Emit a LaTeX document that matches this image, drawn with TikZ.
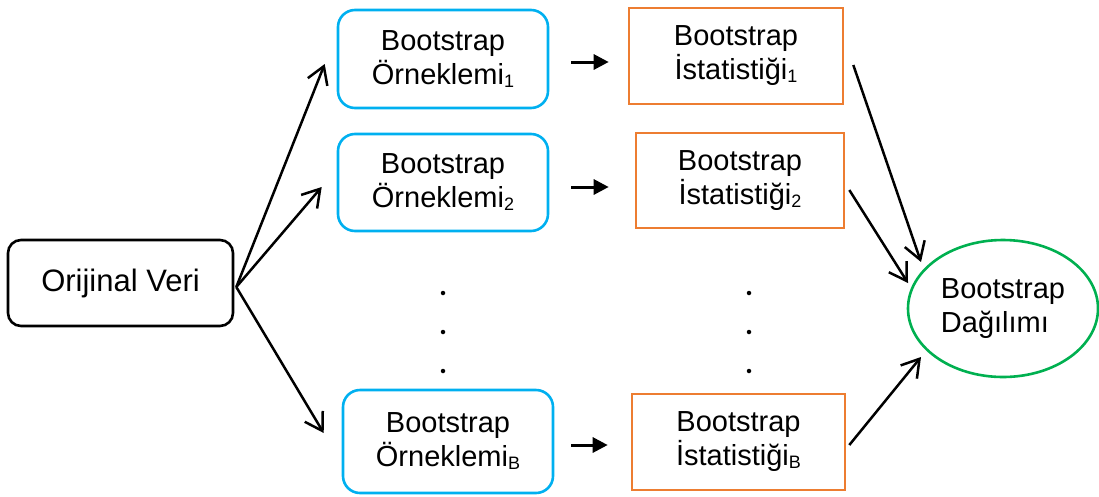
\documentclass[tikz,border=0pt]{standalone}
\usepackage{fontspec}
\setmainfont{Liberation Sans}
\usetikzlibrary{arrows.meta,shapes.geometric}

\definecolor{sampleblue}{HTML}{00B0F0}
\definecolor{statorange}{HTML}{ED7D31}
\definecolor{distgreen}{HTML}{00B050}

% subscript index set in a smaller size, slightly lowered
\newcommand{\idx}[1]{\raisebox{-3pt}{\fontsize{18}{18}\selectfont #1}}

\tikzset{
  boxtext/.style={font=\fontsize{29}{34}\selectfont, align=center, inner sep=0pt},
  origbox/.style={draw=black, line width=2.6pt, rounded corners=13pt,
    minimum width=225pt, minimum height=86pt, inner sep=0pt,
    font=\fontsize{31}{36}\selectfont},
  samplebox/.style={boxtext, draw=sampleblue, line width=2.6pt, rounded corners=17pt,
    minimum width=210pt},
  statbox/.style={boxtext, draw=statorange, line width=2.6pt,
    minimum width=210pt},
  distnode/.style={draw=distgreen, line width=2.6pt, ellipse, inner sep=0pt,
    minimum width=190pt, minimum height=137pt,
    font=\fontsize{29}{34}\selectfont, align=left},
  fanarrow/.style={line width=2.5pt, -{Straight Barb[length=17pt,width=21pt]}},
  steparrow/.style={line width=3pt, -{Triangle[length=15pt,width=15pt]}},
  vdot/.style={circle, fill=black, inner sep=0pt, minimum size=4.5pt},
}

\begin{document}
\begin{tikzpicture}[x=1pt, y=-1pt]
\useasboundingbox (0,0) rectangle (1099,496);

% source data
\node[origbox] (orig) at (120.5,283) {Orijinal Veri};

% bootstrap samples
\node[samplebox, minimum height=98pt]  (s1) at (443,59)    {Bootstrap\\Örneklemi\idx{1}};
\node[samplebox, minimum height=97pt]  (s2) at (443,182.5) {Bootstrap\\Örneklemi\idx{2}};
\node[samplebox, minimum height=103pt] (sB) at (448,441.5) {Bootstrap\\Örneklemi\idx{B}};

% bootstrap statistics
\node[statbox, minimum width=214pt, minimum height=96pt] (t1) at (736,56)    {Bootstrap\\İstatistiği\idx{1}};
\node[statbox, minimum width=208pt, minimum height=95pt] (t2) at (740,180.5) {Bootstrap\\İstatistiği\idx{2}};
\node[statbox, minimum width=213pt, minimum height=96pt] (tB) at (738.5,442) {Bootstrap\\İstatistiği\idx{B}};

% bootstrap distribution
\node[distnode] (dist) at (1003,308.5) {Bootstrap\\Dağılımı};

% vertical ellipsis dots
\node[vdot] (da1) at (443,293) {};
\node[vdot] (da2) at (443,332) {};
\node[vdot] (da3) at (443,371) {};
\node[vdot] (db1) at (749,293) {};
\node[vdot] (db2) at (749,332) {};
\node[vdot] (db3) at (749,371) {};

% resampling arrows
\draw[fanarrow] ([shift={(2,4)}]orig.east) -- ([shift={(-12,5)}]s1.west);
\draw[fanarrow] ([shift={(2,4)}]orig.east) -- ([shift={(-15,4.5)}]s2.west);
\draw[fanarrow] ([shift={(2,4)}]orig.east) -- ([shift={(-18,-8.5)}]sB.west);

% statistic computation arrows
\draw[steparrow] ([shift={(22,3)}]s1.east) -- ([shift={(-19,6)}]t1.west);
\draw[steparrow] ([shift={(22,4.5)}]s2.east) -- ([shift={(-26,6.5)}]t2.west);
\draw[steparrow] ([shift={(17,3.5)}]sB.east) -- ([shift={(-23,3)}]tB.west);

% collecting statistics into the distribution
\draw[fanarrow] ([shift={(9,9)}]t1.east) -- ([shift={(-82,-46.5)}]dist.center);
\draw[fanarrow] ([shift={(4,9.5)}]t2.east) -- ([shift={(-95,-25.5)}]dist.center);
\draw[fanarrow] ([shift={(3,3)}]tB.east) -- ([shift={(-82,48.5)}]dist.center);
\end{tikzpicture}
\end{document}
